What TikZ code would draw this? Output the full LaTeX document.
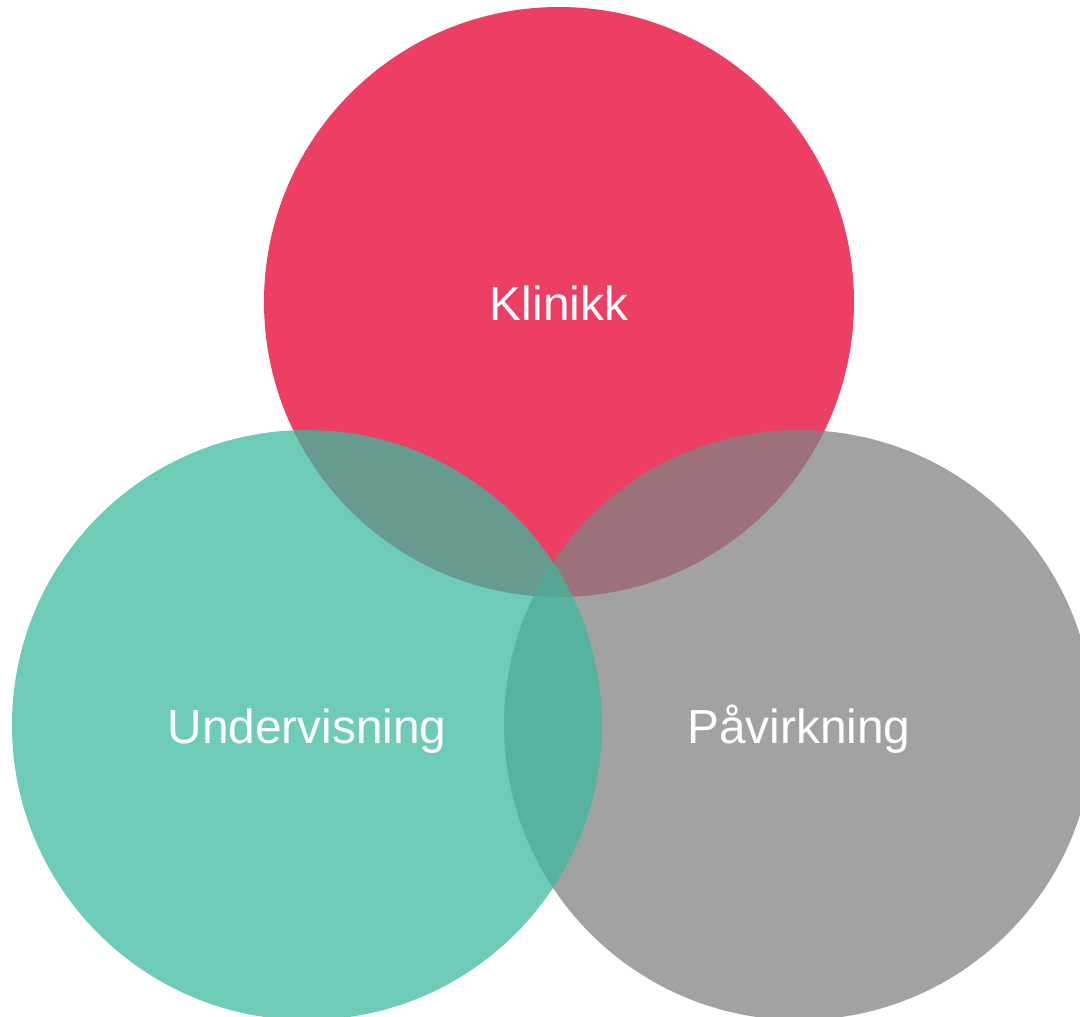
\documentclass[tikz,border=0pt]{standalone}
\usepackage{fontspec}
\setmainfont{Liberation Sans}
\usepackage{xcolor}
\usepackage{tikz}

\definecolor{klinikkred}{RGB}{236,63,99}
\definecolor{undervteal}{RGB}{60,186,159}
\definecolor{paavgray}{RGB}{131,131,131}

\begin{document}
\begin{tikzpicture}[x=1pt,y=-1pt,%
% common options for the circles:
ball/.style = {circle, draw=none, minimum size=590pt, inner sep=0, anchor=center},
% common options for the labels:
word/.style = {text=white, anchor=base, inner sep=0,
            font=\fontsize{47.8}{57}\selectfont}]
\useasboundingbox (0,0) rectangle (1080,1017);

\node[ball,fill=klinikkred] (K) at (559,302) {};
\node[ball,fill=paavgray,fill opacity=0.75] (P) at (799,725) {};
\node[ball,fill=undervteal,fill opacity=0.75] (U) at (307,725) {};

\node[word] (K0) at (559,320) {Klinikk};
\node[word] (U0) at (307,743) {Undervisning};
\node[word] (P0) at (799,743) {Påvirkning};
\end{tikzpicture}
\end{document}
